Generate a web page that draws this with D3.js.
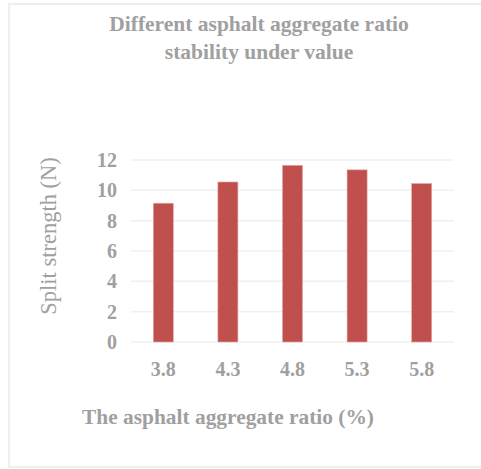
<!DOCTYPE html>
<html>
<head>
<meta charset="utf-8">
<script src="https://cdn.jsdelivr.net/npm/d3@7"></script>
<style>
  html, body { margin: 0; padding: 0; background: #fff; }
  svg { display: block; }
  text { font-family: "Liberation Serif", "Times New Roman", serif; }
</style>
</head>
<body>
<svg id="chart" width="481" height="469"></svg>
<script>
// Asphalt aggregate ratio (%) and measured split strength (N)
const categories = ["3.8", "4.3", "4.8", "5.3", "5.8"];
const values = [9.15, 10.55, 11.65, 11.35, 10.45];
const yTicks = [0, 2, 4, 6, 8, 10, 12];
const titleLines = ["Different asphalt aggregate ratio", "stability under value"];
const xTitle = "The asphalt aggregate ratio (%)";
const yTitle = "Split strength (N)";

const svg = d3.select("#chart");
const W = 481, H = 469;
const textColor = "#a0a0a0";
const serif = "Liberation Serif, Times New Roman, serif";

// chart area frame
svg.append("rect")
  .attr("x", 9).attr("y", 4)
  .attr("width", W + 10).attr("height", 463)
  .attr("fill", "#fff")
  .attr("stroke", "#efefef").attr("stroke-width", 2);

const plot = { left: 131, right: 454, top: 160, bottom: 342 };

const x = d3.scaleBand()
  .domain(categories)
  .range([plot.left, plot.right])
  .paddingInner(0.69)
  .paddingOuter(0.345);

const y = d3.scaleLinear()
  .domain([0, 12])
  .range([plot.bottom, plot.top]);

// horizontal gridlines
svg.append("g")
  .selectAll("line")
  .data(yTicks)
  .join("line")
  .attr("x1", plot.left).attr("x2", plot.right)
  .attr("y1", d => y(d)).attr("y2", d => y(d))
  .attr("stroke", "#f0f0f0").attr("stroke-width", 1.5);

// bars
svg.append("g")
  .selectAll("rect")
  .data(values)
  .join("rect")
  .attr("x", (d, i) => x(categories[i]))
  .attr("y", d => y(d))
  .attr("width", x.bandwidth())
  .attr("height", d => y(0) - y(d))
  .attr("fill", "#c0504d")
  .attr("stroke", "#e5a9a7").attr("stroke-width", 0.6);

// y axis (labels only)
const yAxis = svg.append("g")
  .attr("transform", `translate(${plot.left - 14},0)`)
  .call(d3.axisLeft(y).tickValues(yTicks).tickSize(0).tickPadding(0));
yAxis.select(".domain").remove();
yAxis.selectAll("text")
  .attr("fill", textColor)
  .attr("font-size", 20)
  .attr("font-weight", "bold")
  .attr("font-family", serif);

// x axis (labels only)
const xAxis = svg.append("g")
  .attr("transform", `translate(0,${plot.bottom + 20})`)
  .call(d3.axisBottom(x).tickSize(0).tickPadding(0));
xAxis.select(".domain").remove();
xAxis.selectAll("text")
  .attr("fill", textColor)
  .attr("font-size", 20)
  .attr("font-weight", "bold")
  .attr("font-family", serif);

// title
svg.append("text")
  .attr("x", 259).attr("y", 31)
  .attr("text-anchor", "middle")
  .attr("fill", textColor)
  .attr("font-size", 21.5)
  .attr("font-weight", "bold")
  .selectAll("tspan")
  .data(titleLines)
  .join("tspan")
  .attr("x", 259)
  .attr("dy", (d, i) => i === 0 ? 0 : 28)
  .text(d => d);

// x axis title
svg.append("text")
  .attr("x", 228).attr("y", 424)
  .attr("text-anchor", "middle")
  .attr("fill", textColor)
  .attr("font-size", 21.4)
  .attr("font-weight", "bold")
  .text(xTitle);

// y axis title
svg.append("text")
  .attr("transform", "translate(56,236) rotate(-90)")
  .attr("text-anchor", "middle")
  .attr("fill", textColor)
  .attr("font-size", 22.5)
  .text(yTitle);
</script>
</body>
</html>
